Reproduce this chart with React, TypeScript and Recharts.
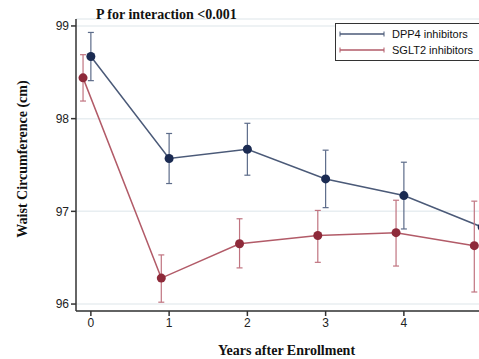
import React from 'react';
import {
  ComposedChart,
  Line,
  ErrorBar,
  XAxis,
  YAxis,
  CartesianGrid,
  Label,
} from 'recharts';

const years = [0, 1, 2, 3, 4, 5];
const dppMean = [98.67, 97.57, 97.67, 97.35, 97.17, 96.83];
const dppLow = [98.41, 97.3, 97.39, 97.04, 96.81, 96.5];
const dppHigh = [98.93, 97.84, 97.95, 97.66, 97.53, 97.16];
const sgltMean = [98.44, 96.28, 96.65, 96.74, 96.77, 96.63];
const sgltLow = [98.19, 96.02, 96.39, 96.45, 96.41, 96.13];
const sgltHigh = [98.69, 96.53, 96.92, 97.01, 97.12, 97.11];
const xTicks = [0, 1, 2, 3, 4];
const yTicks = [96, 97, 98, 99];
const SGLT_SHIFT = -0.1;

const dppData = years.map((x, i) => ({
  x,
  y: dppMean[i],
  err: [dppMean[i] - dppLow[i], dppHigh[i] - dppMean[i]],
}));
const sgltData = years.map((x, i) => ({
  x: x + SGLT_SHIFT,
  y: sgltMean[i],
  err: [sgltMean[i] - sgltLow[i], sgltHigh[i] - sgltMean[i]],
}));

const BLUE_LINE = '#4b5a78';
const BLUE_DOT = '#1b2b52';
const BLUE_ERR = '#5d6c8a';
const RED_LINE = '#b25b68';
const RED_DOT = '#8e2a3a';
const RED_ERR = '#c07480';

const serif = '"Liberation Serif", "Times New Roman", serif';
const sans = '"Liberation Sans", Arial, sans-serif';

const LegendBox = () => (
  <div
    style={{
      position: 'absolute',
      left: 335,
      top: 23,
      width: 144,
      height: 38,
      border: '1px solid #333',
      borderRight: 'none',
      background: '#fff',
      fontFamily: sans,
      fontSize: 11,
      color: '#111',
      boxSizing: 'border-box',
    }}
  >
    {[
      { name: 'DPP4 inhibitors', color: BLUE_LINE },
      { name: 'SGLT2 inhibitors', color: RED_LINE },
    ].map((item, i) => (
      <div
        key={item.name}
        style={{
          position: 'absolute',
          left: 3,
          top: 3 + i * 16,
          height: 14,
          display: 'flex',
          alignItems: 'center',
          whiteSpace: 'nowrap',
        }}
      >
        <svg width={46} height={14} style={{ flexShrink: 0 }}>
          <line x1={1} y1={7} x2={45} y2={7} stroke={item.color} strokeWidth={1.5} />
          <line x1={1} y1={4.5} x2={1} y2={9.5} stroke={item.color} strokeWidth={1} />
          <line x1={45} y1={4.5} x2={45} y2={9.5} stroke={item.color} strokeWidth={1} />
        </svg>
        <span style={{ marginLeft: 7 }}>{item.name}</span>
      </div>
    ))}
  </div>
);

export default function App() {
  return (
    <div
      style={{
        position: 'absolute',
        left: 0,
        top: 0,
        width: 479,
        height: 359,
        overflow: 'hidden',
        background: '#fff',
      }}
    >
      <ComposedChart
        width={479}
        height={359}
        margin={{ top: 19, right: 0, bottom: 0, left: 0 }}
      >
        <CartesianGrid
          horizontal
          vertical={false}
          stroke="#e8eef1"
          strokeWidth={1.5}
        />
        <XAxis
          type="number"
          dataKey="x"
          domain={[-0.19, 4.96]}
          allowDataOverflow
          ticks={xTicks}
          height={48}
          tickSize={5}
          stroke="#333"
          strokeWidth={1.5}
          tick={{ fontFamily: sans, fontSize: 12, fill: '#222' }}
        >
          <Label
            value="Years after Enrollment"
            position="insideBottom"
            offset={4}
            dx={9}
            style={{ fontFamily: serif, fontWeight: 'bold', fontSize: 14, fill: '#111' }}
          />
        </XAxis>
        <YAxis
          type="number"
          domain={[95.925, 99.075]}
          allowDataOverflow
          ticks={yTicks}
          width={76}
          tickSize={5}
          stroke="#333"
          strokeWidth={1.5}
          tick={{ fontFamily: sans, fontSize: 12, fill: '#222' }}
        >
          <Label
            value="Waist Circumference (cm)"
            angle={-90}
            position="insideLeft"
            offset={22}
            dy={-6}
            style={{
              fontFamily: serif,
              fontWeight: 'bold',
              fontSize: 14,
              fill: '#111',
              textAnchor: 'middle',
            }}
          />
        </YAxis>
        <Line
          data={dppData}
          dataKey="y"
          stroke={BLUE_LINE}
          strokeWidth={1.5}
          dot={{ r: 4.5, fill: BLUE_DOT, stroke: BLUE_DOT, strokeWidth: 0 }}
          activeDot={false}
          isAnimationActive={false}
        >
          <ErrorBar dataKey="err" direction="y" width={3} stroke={BLUE_ERR} strokeWidth={1.2} />
        </Line>
        <Line
          data={sgltData}
          dataKey="y"
          stroke={RED_LINE}
          strokeWidth={1.5}
          dot={{ r: 4.5, fill: RED_DOT, stroke: RED_DOT, strokeWidth: 0 }}
          activeDot={false}
          isAnimationActive={false}
        >
          <ErrorBar dataKey="err" direction="y" width={3} stroke={RED_ERR} strokeWidth={1.2} />
        </Line>
        <text
          x={96}
          y={19}
          style={{ fontFamily: serif, fontWeight: 'bold', fontSize: 14, fill: '#111' }}
        >
          P for interaction {'<'}0.001
        </text>
      </ComposedChart>
      <LegendBox />
    </div>
  );
}
